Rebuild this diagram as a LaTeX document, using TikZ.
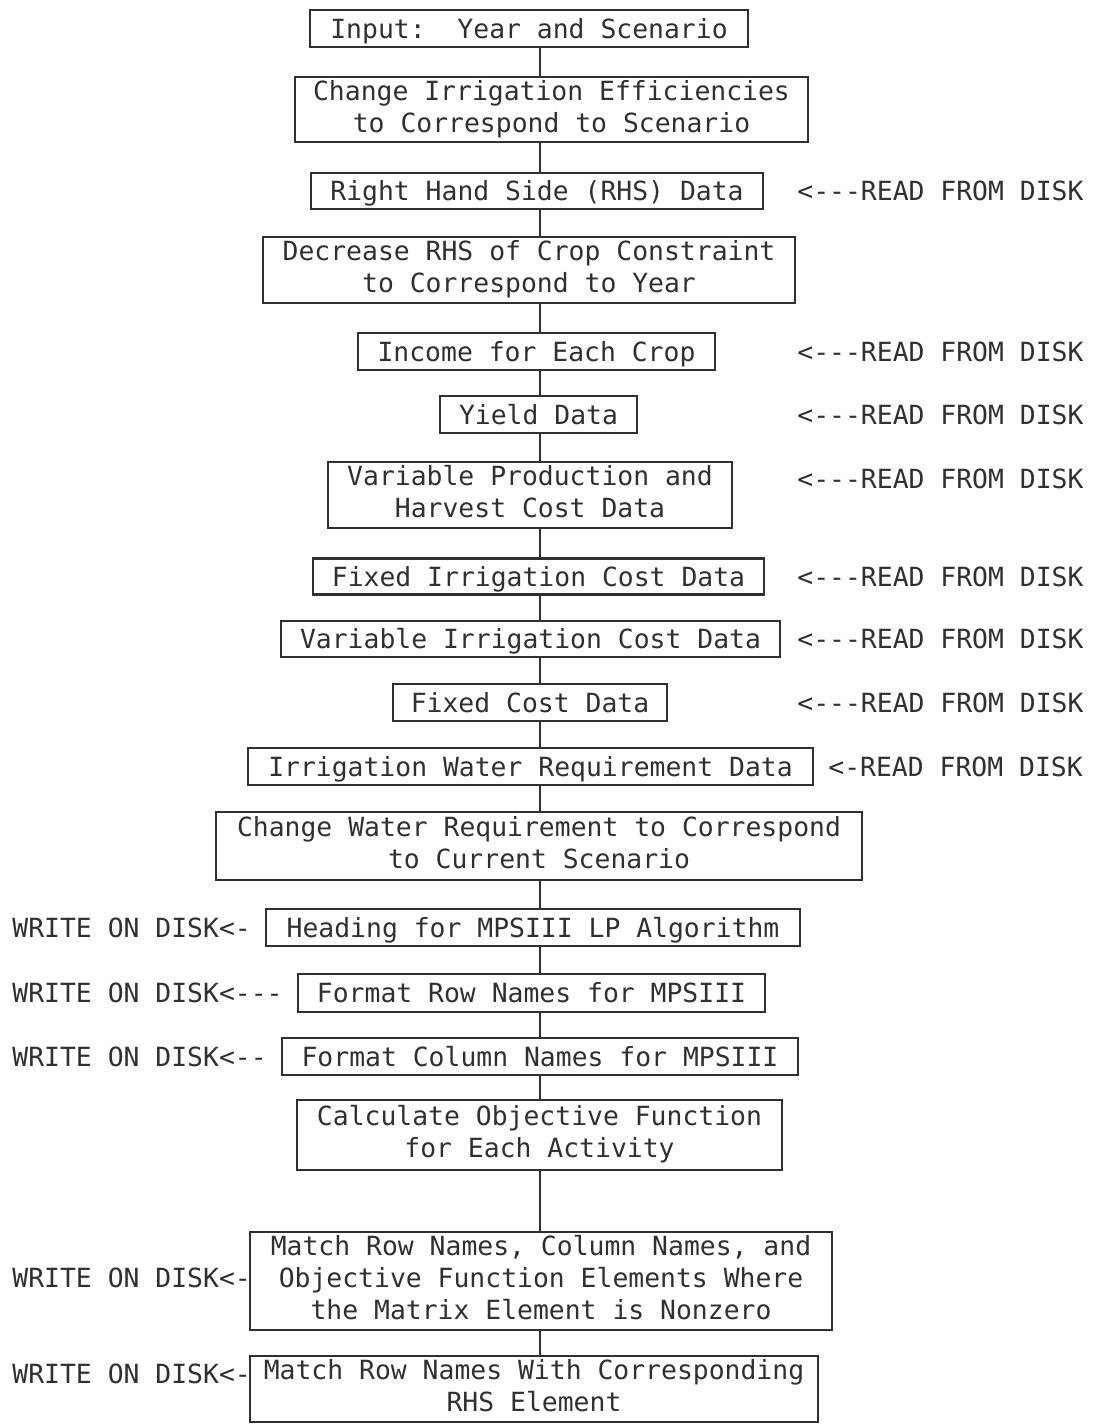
\documentclass[tikz,border=0pt]{standalone}
\usepackage{fontspec}
\setmonofont{DejaVu Sans Mono}
\usetikzlibrary{positioning}
\definecolor{ink}{RGB}{48,48,48}
\newcommand{\fstrut}{\rule[-3.2pt]{0pt}{16pt}}

\begin{document}
\begin{tikzpicture}[
    x=0.5pt, y=-0.5pt,
    procbox/.style={rectangle, draw=ink, line width=1.1pt, text=ink, align=center,
        inner xsep=2pt, inner ysep=1pt,
        font=\ttfamily\fontsize{13.2}{16}\selectfont,
        execute at begin node=\fstrut, execute at end node=\fstrut},
    disklabel/.style={anchor=west, inner sep=0pt, text=ink,
        font=\ttfamily\fontsize{13.2}{16}\selectfont},
    link/.style={draw=ink, line width=1.1pt}
]
    \useasboundingbox (0,0) rectangle (1098,1424);
    \coordinate (spine) at (540,0);

    % Input and scenario set-up
    \node[procbox, minimum width=219pt, minimum height=18.5pt] (inp) at (529,28.5) {Input:\ \ Year and Scenario};
    \node[procbox, minimum width=256.5pt, minimum height=32.5pt] (effic) at (551.5,109.5) {Change Irrigation Efficiencies\\to Correspond to Scenario};
    \node[procbox, minimum width=226pt, minimum height=18pt] (rhs) at (537,191) {Right Hand Side (RHS) Data};
    \node[procbox, minimum width=266pt, minimum height=33pt] (decr) at (529,270) {Decrease RHS of Crop Constraint\\to Correspond to Year};

    % Data read from disk
    \node[procbox, minimum width=178.5pt, minimum height=18.5pt] (income) at (536.5,351.5) {Income for Each Crop};
    \node[procbox, minimum width=98.5pt, minimum height=18.5pt] (yield) at (538.5,414.5) {Yield Data};
    \node[procbox, minimum width=202pt, minimum height=33pt] (varprod) at (530,495) {Variable Production and\\Harvest Cost Data};
    \node[procbox, minimum width=225.5pt, minimum height=17.5pt] (fixirr) at (538.5,576.5) {Fixed Irrigation Cost Data};
    \node[procbox, minimum width=249.5pt, minimum height=18pt] (varirr) at (530.5,639) {Variable Irrigation Cost Data};
    \node[procbox, minimum width=137pt, minimum height=18.5pt] (fixcost) at (530,702.5) {Fixed Cost Data};
    \node[procbox, minimum width=282.5pt, minimum height=18.5pt] (watreq) at (530.5,766.5) {Irrigation Water Requirement Data};
    \node[procbox, minimum width=323pt, minimum height=34pt] (chwat) at (539,846) {Change Water Requirement to Correspond\\to Current Scenario};

    % MPSIII output
    \node[procbox, minimum width=267pt, minimum height=18.5pt] (heading) at (533,927.5) {Heading for MPSIII LP Algorithm};
    \node[procbox, minimum width=233.5pt, minimum height=19pt] (rownm) at (531.5,993) {Format Row Names for MPSIII};
    \node[procbox, minimum width=258pt, minimum height=18.5pt] (colnm) at (540,1056.5) {Format Column Names for MPSIII};
    \node[procbox, minimum width=242.5pt, minimum height=35pt] (objfn) at (539.5,1135) {Calculate Objective Function\\for Each Activity};
    \node[procbox, minimum width=291pt, minimum height=49pt] (matchel) at (541,1281) {Match Row Names, Column Names, and\\Objective Function Elements Where\\the Matrix Element is Nonzero};
    \node[procbox, minimum width=284pt, minimum height=33pt] (matchrhs) at (534,1389) {Match Row Names With Corresponding\\RHS Element};

    % Spine
    \foreach \a/\b in {inp/effic, effic/rhs, rhs/decr, decr/income, income/yield,
        yield/varprod, varprod/fixirr, fixirr/varirr, varirr/fixcost, fixcost/watreq,
        watreq/chwat, chwat/heading, heading/rownm, rownm/colnm, colnm/objfn,
        objfn/matchel, matchel/matchrhs}
        \draw[link] (\a.south -| spine) -- (\b.north -| spine);

    % Disk labels
    \node[disklabel] (rdrhs) at (797,191) {<---READ FROM DISK};
    \node[disklabel] (rdinc) at (797,351.5) {<---READ FROM DISK};
    \node[disklabel] (rdyld) at (797,414.5) {<---READ FROM DISK};
    \node[disklabel] (rdvp) at (797,479) {<---READ FROM DISK};
    \node[disklabel] (rdfi) at (797,576.5) {<---READ FROM DISK};
    \node[disklabel] (rdvi) at (797,639) {<---READ FROM DISK};
    \node[disklabel] (rdfc) at (797,702.5) {<---READ FROM DISK};
    \node[disklabel] (rdwr) at (828,766.5) {<-READ FROM DISK};
    \node[disklabel] (wrhd) at (12,927.5) {WRITE ON DISK<-};
    \node[disklabel] (wrrow) at (12,993) {WRITE ON DISK<---};
    \node[disklabel] (wrcol) at (12,1056.5) {WRITE ON DISK<--};
    \node[disklabel] (wrel) at (12,1278) {WRITE ON DISK<-};
    \node[disklabel] (wrrhs) at (12,1374) {WRITE ON DISK<-};
\end{tikzpicture}
\end{document}
